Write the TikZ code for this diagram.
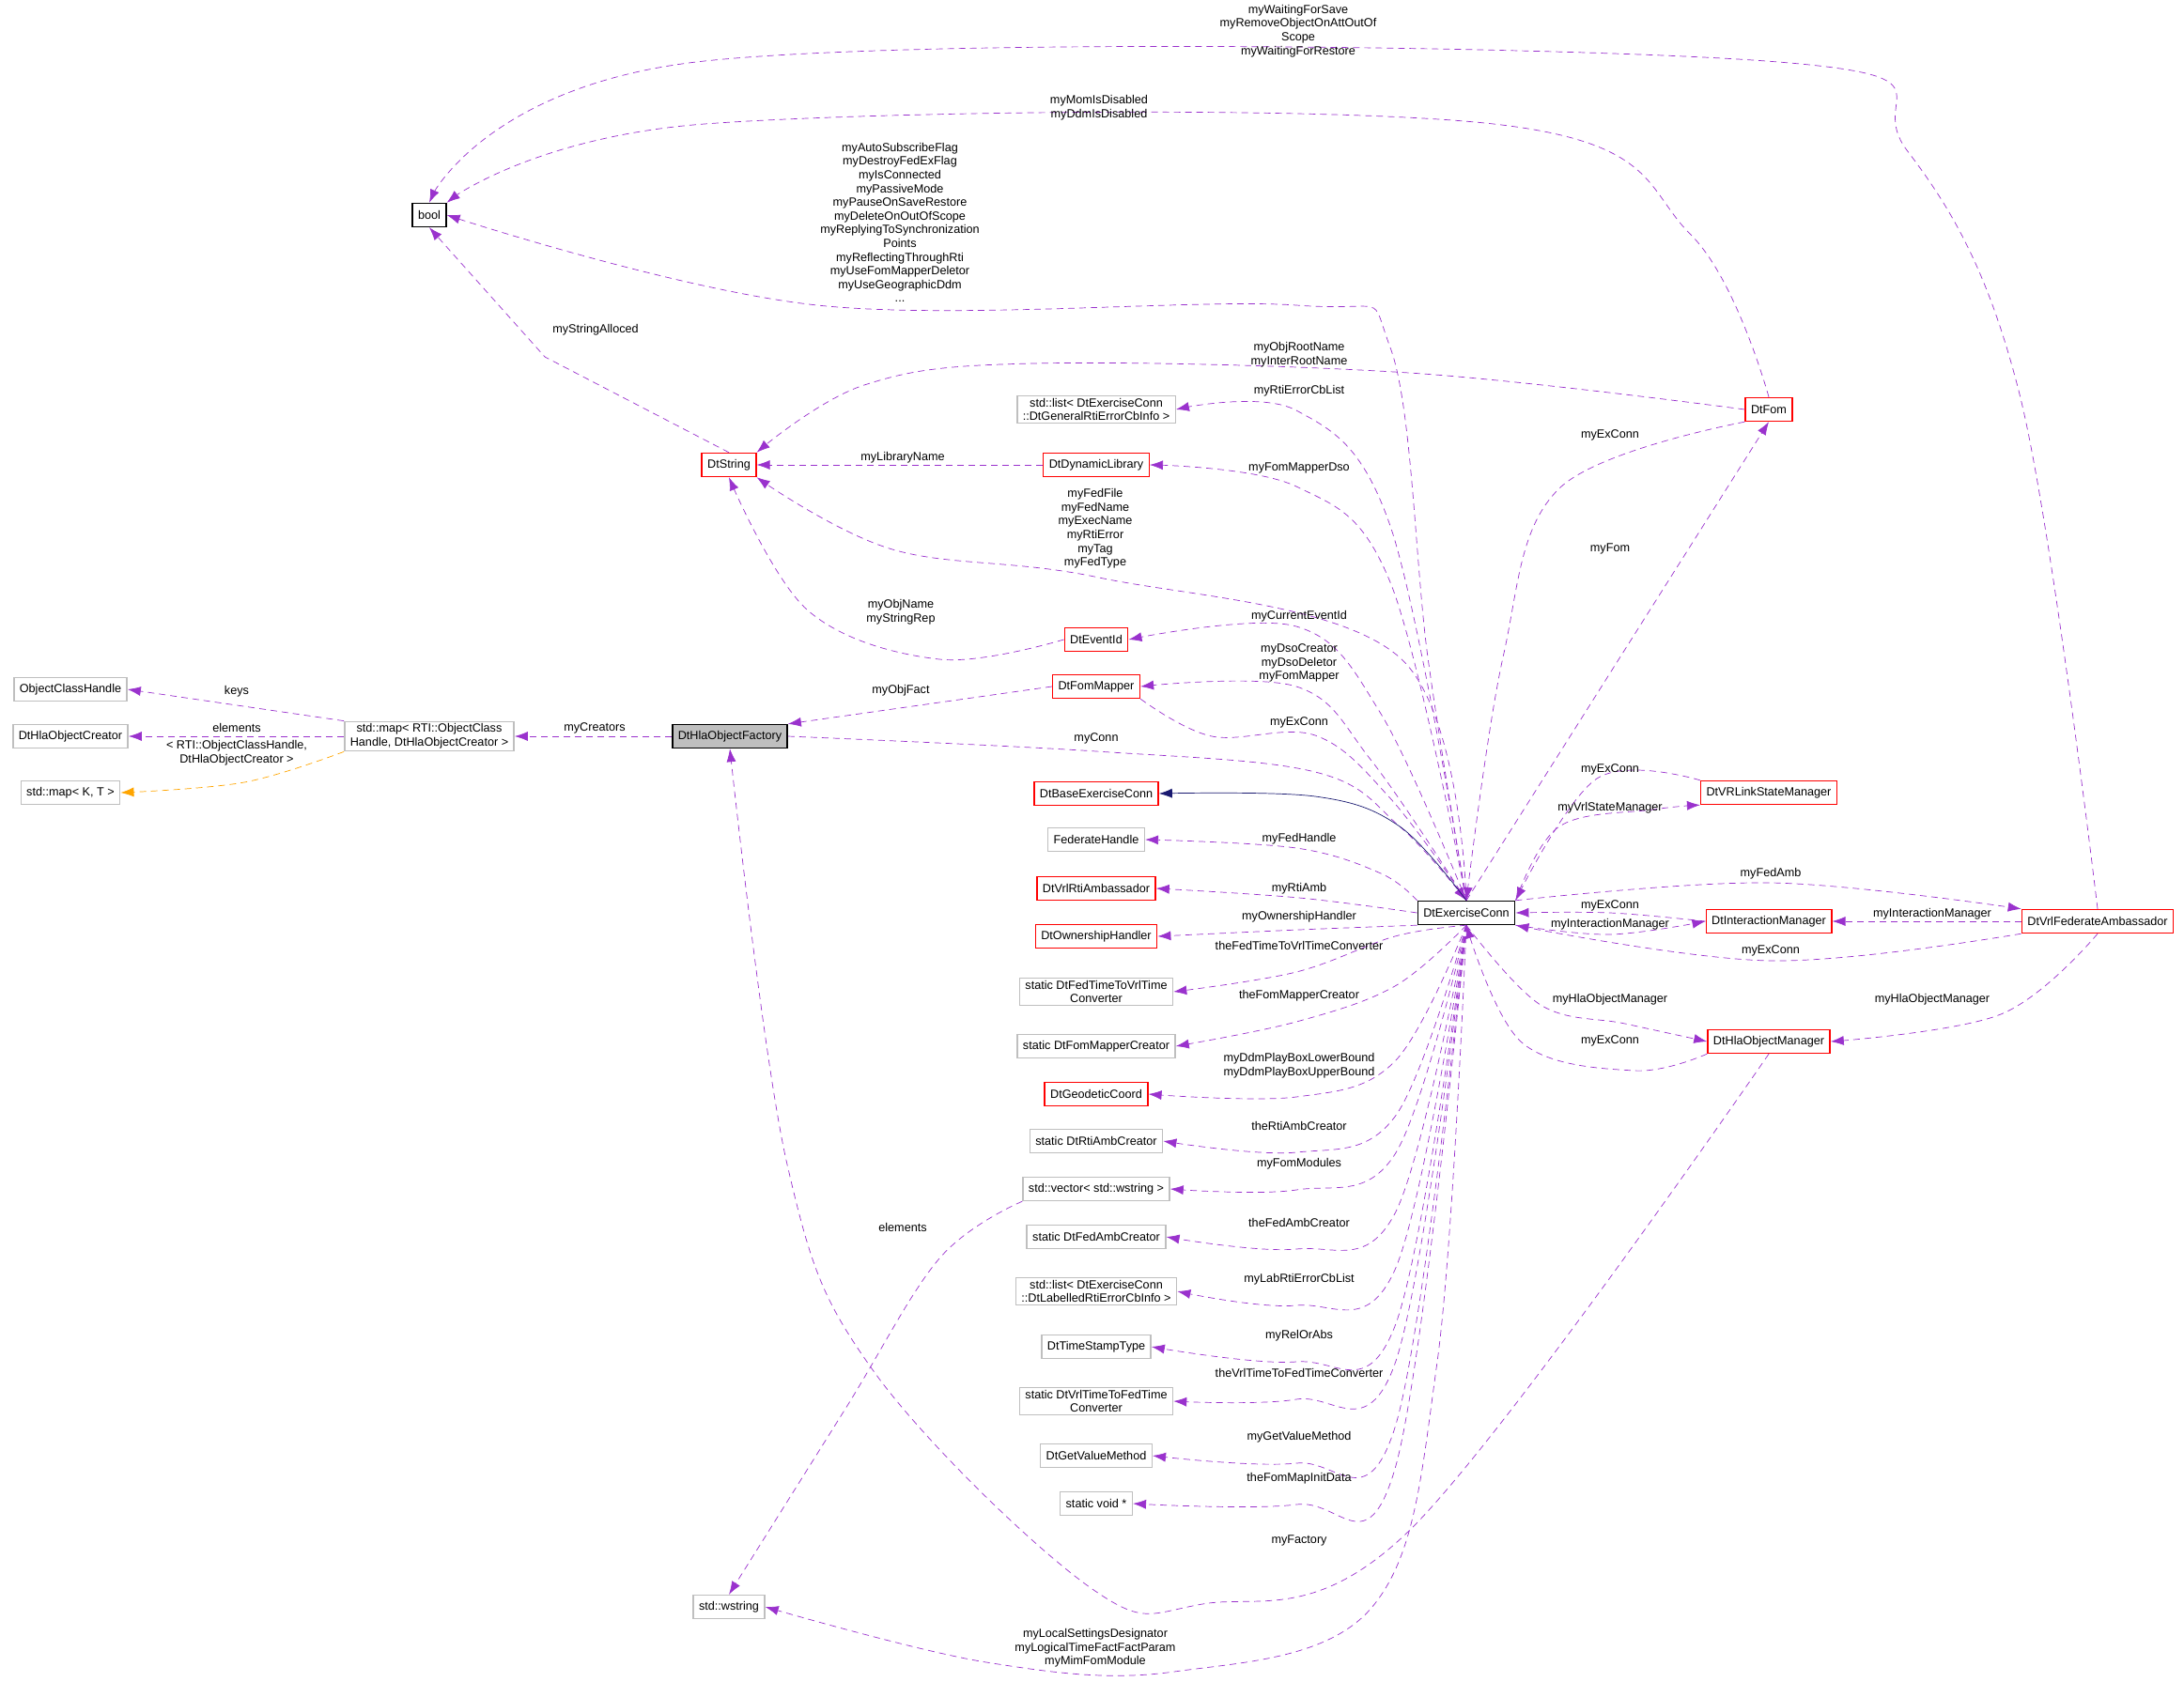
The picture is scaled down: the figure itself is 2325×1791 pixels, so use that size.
\documentclass[tikz,border=0pt]{standalone}
\usepackage{fontspec}
\setmainfont{Liberation Sans}
\usetikzlibrary{arrows.meta}
\definecolor{edgepurple}{HTML}{9A32CD}
\definecolor{boxgray}{HTML}{BFBFBF}
\definecolor{inhnavy}{HTML}{191970}
\definecolor{tmplorange}{HTML}{FFA500}
\begin{document}
\begin{tikzpicture}[x=0.02cm,y=-0.02cm,
  font=\fontsize{7.2}{8.3}\selectfont,
  cls/.style={draw=black,thick,fill=white,inner xsep=0.12cm,inner ysep=0.05cm,minimum height=0.5cm,align=center},
  red/.style={cls,draw=red},
  ext/.style={cls,draw=boxgray},
  lbl/.style={align=center,inner sep=0pt},
  rel/.style={draw=edgepurple,dash pattern=on 0.14cm off 0.1cm,-{Latex[length=0.28cm,width=0.2cm]}},
  tmpl/.style={rel,draw=tmplorange},
  inh/.style={draw=inhnavy,-{Latex[length=0.28cm,width=0.2cm]}}]
\useasboundingbox (0,0) rectangle (2325,1791);
% classes
\node[cls] (bool) at (457,229) {bool};
\node[red] (str) at (776,495) {DtString};
\node[cls,fill=boxgray] (fact) at (777,784) {DtHlaObjectFactory};
\node[ext] (crmap) at (457,784) {std::map< RTI::ObjectClass\\Handle, DtHlaObjectCreator >};
\node[ext] (och) at (75,734) {ObjectClassHandle};
\node[ext] (creator) at (75,784) {DtHlaObjectCreator};
\node[ext] (mapkt) at (75,844) {std::map< K, T >};
\node[ext] (wstr) at (776,1711) {std::wstring};
\node[cls] (ec) at (1561,972) {DtExerciseConn};
\node[ext] (genlist) at (1167,436) {std::list< DtExerciseConn\\::DtGeneralRtiErrorCbInfo >};
\node[red] (dynlib) at (1167,495) {DtDynamicLibrary};
\node[red] (evid) at (1167,681) {DtEventId};
\node[red] (fommap) at (1167,731) {DtFomMapper};
\node[red] (baseec) at (1167,845) {DtBaseExerciseConn};
\node[ext] (fedh) at (1167,894) {FederateHandle};
\node[red] (rtiamb) at (1167,946) {DtVrlRtiAmbassador};
\node[red] (own) at (1167,997) {DtOwnershipHandler};
\node[ext] (fedtime) at (1167,1056) {static DtFedTimeToVrlTime\\Converter};
\node[ext] (fmcreat) at (1167,1114) {static DtFomMapperCreator};
\node[red] (geo) at (1167,1165) {DtGeodeticCoord};
\node[ext] (rticreat) at (1167,1215) {static DtRtiAmbCreator};
\node[ext] (vec) at (1167,1266) {std::vector< std::wstring >};
\node[ext] (fedcreat) at (1167,1317) {static DtFedAmbCreator};
\node[ext] (lablist) at (1167,1375) {std::list< DtExerciseConn\\::DtLabelledRtiErrorCbInfo >};
\node[ext] (tstamp) at (1167,1434) {DtTimeStampType};
\node[ext] (vrltime) at (1167,1492) {static DtVrlTimeToFedTime\\Converter};
\node[ext] (getval) at (1167,1550) {DtGetValueMethod};
\node[ext] (voidp) at (1167,1601) {static void *};
\node[red] (fom) at (1883,436) {DtFom};
\node[red] (vrlstate) at (1883,844) {DtVRLinkStateManager};
\node[red] (intman) at (1883,981) {DtInteractionManager};
\node[red] (fedamb) at (2233,981) {DtVrlFederateAmbassador};
\node[red] (hlaman) at (1883,1109) {DtHlaObjectManager};
% edges to bool
\draw[rel] plot[smooth,tension=0.6] coordinates {(fedamb.north) (2150,420) (2030,160) (1880,65) (750,65) (bool.north)};
\draw[rel] plot[smooth,tension=0.6] coordinates {(fom.north) (1800,250) (1590,132) (750,132) (bool.north east)};
\draw[rel] plot[smooth,tension=0.6] coordinates {(ec.north) (1520,700) (1480,370) (1380,325) (870,325) (bool.east)};
\draw[rel] (str.north) -- (580,380) -- (bool.south);
\node[lbl] at (1382,33) {myWaitingForSave\\myRemoveObjectOnAttOutOf\\Scope\\myWaitingForRestore};
\node[lbl] at (1170,115) {myMomIsDisabled\\myDdmIsDisabled};
\node[lbl] at (958,237) {myAutoSubscribeFlag\\myDestroyFedExFlag\\myIsConnected\\myPassiveMode\\myPauseOnSaveRestore\\myDeleteOnOutOfScope\\myReplyingToSynchronization\\Points\\myReflectingThroughRti\\myUseFomMapperDeletor\\myUseGeographicDdm\\...};
\node[lbl] at (634,351) {myStringAlloced};
% edges to DtString
\draw[rel] plot[smooth,tension=0.6] coordinates {(fom.west) (1500,397) (1100,387) (920,410) (str.north east)};
\draw[rel] (dynlib.west) -- (str.east);
\draw[rel] plot[smooth,tension=0.6] coordinates {(ec.north) (1490,700) (1170,615) (950,585) (str.south east)};
\draw[rel] plot[smooth,tension=0.6] coordinates {(evid.west) (1000,702) (860,650) (str.south)};
\node[lbl] at (1383,378) {myObjRootName\\myInterRootName};
\node[lbl] at (961,487) {myLibraryName};
\node[lbl] at (1166,563) {myFedFile\\myFedName\\myExecName\\myRtiError\\myTag\\myFedType};
\node[lbl] at (959,652) {myObjName\\myStringRep};
% factory and maps
\draw[rel] (fommap.west) -- (fact.north east);
\draw[rel] (fact.west) -- (crmap.east);
\draw[rel] (crmap.north west) -- (och.east);
\draw[rel] (crmap.west) -- (creator.east);
\draw[tmpl] plot[smooth,tension=0.6] coordinates {(crmap.south west) (260,833) (mapkt.east)};
\node[lbl] at (959,735) {myObjFact};
\node[lbl] at (633,775) {myCreators};
\node[lbl] at (252,736) {keys};
\node[lbl] at (252,775) {elements};
\node[lbl] at (252,802) {< RTI::ObjectClassHandle,\\DtHlaObjectCreator >};
% exercise conn upper column
\draw[rel] plot[smooth,tension=0.6] coordinates {(ec.north) (1480,560) (1380,437) (genlist.east)};
\draw[rel] plot[smooth,tension=0.6] coordinates {(ec.north) (1480,620) (1380,518) (dynlib.east)};
\draw[rel] plot[smooth,tension=0.6] coordinates {(ec.north) (1470,760) (1380,667) (evid.east)};
\draw[rel] plot[smooth,tension=0.6] coordinates {(ec.north) (1460,810) (1380,731) (fommap.east)};
\draw[rel] plot[smooth,tension=0.6] coordinates {(fommap.south east) (1290,784) (1400,783) (1480,850) (ec.north)};
\draw[rel] plot[smooth,tension=0.6] coordinates {(fact.east) (1167,800) (1400,822) (1490,880) (ec.north)};
\draw[inh] plot[smooth,tension=0.6] coordinates {(ec.north) (1490,880) (1400,848) (baseec.east)};
\draw[rel] plot[smooth,tension=0.6] coordinates {(ec.north west) (1470,930) (1380,903) (fedh.east)};
\draw[rel] plot[smooth,tension=0.6] coordinates {(ec.west) (1383,956) (rtiamb.east)};
\draw[rel] plot[smooth,tension=0.6] coordinates {(ec.south west) (1383,990) (own.east)};
\node[lbl] at (1383,416) {myRtiErrorCbList};
\node[lbl] at (1383,498) {myFomMapperDso};
\node[lbl] at (1383,656) {myCurrentEventId};
\node[lbl] at (1383,706) {myDsoCreator\\myDsoDeletor\\myFomMapper};
\node[lbl] at (1383,769) {myExConn};
\node[lbl] at (1167,786) {myConn};
\node[lbl] at (1383,893) {myFedHandle};
\node[lbl] at (1383,946) {myRtiAmb};
\node[lbl] at (1383,976) {myOwnershipHandler};
% exercise conn lower column
\foreach \tgt/\ly in {fedtime/1007,fmcreat/1060,geo/1140,rticreat/1199,vec/1239,fedcreat/1302,lablist/1362,tstamp/1422,vrltime/1462,getval/1530,voidp/1574}
  \draw[rel] plot[smooth,tension=0.6] coordinates {(ec.south) (1485,\ly-10) (1380,\ly+28) (\tgt.east)};
\node[lbl] at (1383,1007) {theFedTimeToVrlTimeConverter};
\node[lbl] at (1383,1060) {theFomMapperCreator};
\node[lbl] at (1383,1135) {myDdmPlayBoxLowerBound\\myDdmPlayBoxUpperBound};
\node[lbl] at (1383,1199) {theRtiAmbCreator};
\node[lbl] at (1383,1239) {myFomModules};
\node[lbl] at (1383,1302) {theFedAmbCreator};
\node[lbl] at (1383,1362) {myLabRtiErrorCbList};
\node[lbl] at (1383,1422) {myRelOrAbs};
\node[lbl] at (1383,1462) {theVrlTimeToFedTimeConverter};
\node[lbl] at (1383,1530) {myGetValueMethod};
\node[lbl] at (1383,1574) {theFomMapInitData};
% wstring
\draw[rel] plot[smooth,tension=0.6] coordinates {(ec.south) (1530,1450) (1460,1712) (1250,1780) (1050,1770) (wstr.east)};
\draw[rel] plot[smooth,tension=0.6] coordinates {(vec.south west) (1000,1340) (900,1500) (wstr.north)};
\node[lbl] at (1166,1755) {myLocalSettingsDesignator\\myLogicalTimeFactFactParam\\myMimFomModule};
\node[lbl] at (961,1307) {elements};
% right side
\draw[rel] plot[smooth,tension=0.6] coordinates {(fom.south west) (1660,520) (1600,700) (ec.north)};
\draw[rel] (ec.north) -- (fom.south);
\draw[rel] plot[smooth,tension=0.6] coordinates {(ec.north east) (1660,880) (1760,862) (vrlstate.south west)};
\draw[rel] plot[smooth,tension=0.6] coordinates {(vrlstate.north west) (1700,829) (ec.north east)};
\draw[rel] plot[smooth,tension=0.6] coordinates {(intman.west) (1714,972) (ec.east)};
\draw[rel] plot[smooth,tension=0.6] coordinates {(ec.south east) (1714,995) (intman.west)};
\draw[rel] plot[smooth,tension=0.6] coordinates {(ec.north east) (1885,940) (fedamb.north west)};
\draw[rel] plot[smooth,tension=0.6] coordinates {(fedamb.south west) (1885,1023) (ec.south east)};
\draw[rel] (fedamb.west) -- (intman.east);
\draw[rel] plot[smooth,tension=0.6] coordinates {(fedamb.south) (2130,1080) (hlaman.east)};
\draw[rel] plot[smooth,tension=0.6] coordinates {(ec.south) (1640,1070) (1730,1090) (hlaman.west)};
\draw[rel] plot[smooth,tension=0.6] coordinates {(hlaman.south west) (1740,1140) (1620,1110) (ec.south)};
\draw[rel] plot[smooth,tension=0.6] coordinates {(hlaman.south) (1500,1630) (1280,1708) (1160,1690) (930,1460) (838,1240) (fact.south)};
\node[lbl] at (1714,463) {myExConn};
\node[lbl] at (1714,584) {myFom};
\node[lbl] at (1714,819) {myExConn};
\node[lbl] at (1714,860) {myVrlStateManager};
\node[lbl] at (1885,930) {myFedAmb};
\node[lbl] at (1714,964) {myExConn};
\node[lbl] at (1714,984) {myInteractionManager};
\node[lbl] at (2057,973) {myInteractionManager};
\node[lbl] at (1885,1012) {myExConn};
\node[lbl] at (1714,1064) {myHlaObjectManager};
\node[lbl] at (2057,1064) {myHlaObjectManager};
\node[lbl] at (1714,1108) {myExConn};
\node[lbl] at (1383,1640) {myFactory};
\end{tikzpicture}
\end{document}
